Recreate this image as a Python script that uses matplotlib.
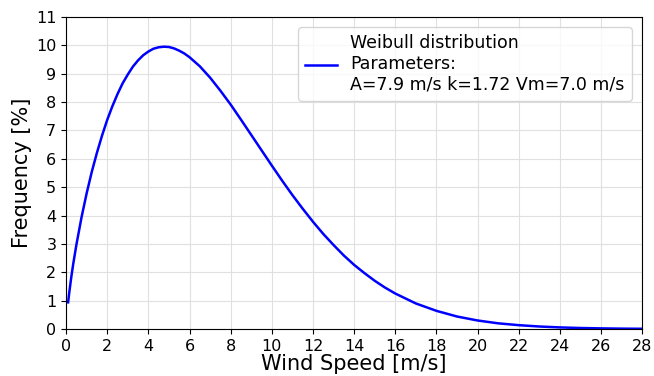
import matplotlib.pyplot as plt

# Wind speed [m/s] and frequency [%]
wind_speed = [0.1, 0.15, 0.25, 0.35, 0.5, 0.75, 1, 1.25, 1.5, 1.75, 2, 2.25,
              2.5, 2.75, 3, 3.25, 3.5, 3.75, 4, 4.25, 4.5, 4.75, 5, 5.25, 5.5,
              5.75, 6, 6.5, 7, 7.5, 8, 8.5, 9, 9.5, 10, 10.5, 11, 11.5, 12,
              12.5, 13, 13.5, 14, 14.5, 15, 15.5, 16, 17, 18, 19, 20, 21, 22,
              23, 24, 25, 26, 27, 28]
frequency = [0.94, 1.25, 1.81, 2.30, 2.96, 3.93, 4.78, 5.54, 6.21, 6.82, 7.37,
             7.85, 8.28, 8.66, 8.97, 9.25, 9.47, 9.65, 9.78, 9.88, 9.93, 9.95,
             9.94, 9.89, 9.81, 9.71, 9.58, 9.26, 8.86, 8.40, 7.91, 7.38, 6.84,
             6.30, 5.76, 5.23, 4.72, 4.24, 3.78, 3.35, 2.96, 2.59, 2.26, 1.97,
             1.70, 1.46, 1.25, 0.90, 0.64, 0.44, 0.30, 0.20, 0.135, 0.088,
             0.056, 0.035, 0.022, 0.013, 0.008]

label = 'Weibull distribution\nParameters:\nA=7.9 m/s k=1.72 Vm=7.0 m/s'

fig = plt.figure(figsize=(6.54, 3.76), dpi=100)
ax = fig.add_axes([0.101, 0.125, 0.881, 0.83])

ax.plot(wind_speed, frequency, color='#0000ff', linewidth=1.8, label=label)

ax.set_xlim(0, 28)
ax.set_ylim(0, 11)
ax.set_xticks(range(0, 29, 2))
ax.set_yticks(range(0, 12))
ax.tick_params(labelsize=11.5)
ax.grid(True, color='#e0e0e0', linewidth=0.8)
ax.set_axisbelow(True)

ax.set_xlabel('Wind Speed [m/s]', fontsize=15, labelpad=0)
ax.set_ylabel('Frequency [%]', fontsize=15, labelpad=3)
ax.legend(loc='upper right', fontsize=12.5, handlelength=1.8,
          borderaxespad=0.6)

fig.savefig('out.png', dpi=100)
